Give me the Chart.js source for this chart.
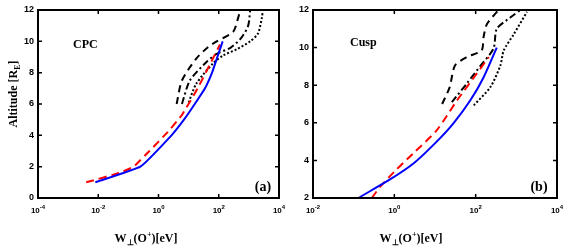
<!DOCTYPE html>
<html>
<head>
<meta charset="utf-8">
<script src="https://cdn.jsdelivr.net/npm/chart.js@4.4.1/dist/chart.umd.min.js"></script>
<style>
html, body { margin: 0; padding: 0; background: #fff; }
#wrap { position: relative; width: 568px; height: 252px; }
#cpc { position: absolute; left: 0; top: 0; }
#cusp { position: absolute; left: 290px; top: 0; }
</style>
</head>
<body>
<div id="wrap">
  <canvas id="cpc" width="290" height="252"></canvas>
  <canvas id="cusp" width="278" height="252"></canvas>
</div>
<script>
// ---- data (W in eV, altitude in RE) ----
const cpcXTicks = [1e-4, 1e-2, 1, 1e2, 1e4];
const cpcYTicks = [0, 2, 4, 6, 8, 10, 12];
const cuspXTicks = [1e-2, 1, 1e2, 1e4];
const cuspYTicks = [2, 4, 6, 8, 10, 12];

// CPC panel (a)
const cpcBlueW = [0.008, 0.25, 2.7, 7, 16, 35, 60, 90, 135];
const cpcBlueAlt = [1, 2, 4, 5, 6, 7, 8, 9, 10];
const cpcRedW = [0.004, 0.05, 0.15, 0.5, 2, 6, 20, 50, 110];
const cpcRedAlt = [1, 1.6, 2, 3, 4.2, 5.3, 7, 8.5, 9.8];
const cpcDashW = [4, 6, 18, 45, 85, 300, 440, 500];
const cpcDashAlt = [6, 7.5, 8.9, 9.65, 10, 10.6, 11.5, 11.9];
const cpcDashDotW = [6, 11, 40, 85, 250, 550, 950, 1100];
const cpcDashDotAlt = [6, 7.5, 8.7, 9.2, 9.6, 10.2, 11, 12];
const cpcDotW = [10, 18, 65, 140, 400, 1100, 2000, 2700, 2900];
const cpcDotAlt = [6.1, 7.3, 8.6, 9.1, 9.5, 10, 10.5, 11.5, 12];

// Cusp panel (b)
const cuspBlueW = [0.13, 0.8, 3, 11, 29, 74, 155, 330];
const cuspBlueAlt = [2, 3, 3.85, 5, 6, 7.2, 8.4, 10];
const cuspRedW = [0.28, 0.45, 1, 3, 11, 35, 105, 210];
const cuspRedAlt = [2, 2.6, 3.4, 4.4, 5.6, 7.2, 8.6, 9.5];
const cuspDashW = [15, 23, 31, 61, 140, 156, 190, 365];
const cuspDashAlt = [7, 7.9, 9.05, 9.5, 9.85, 10.55, 11.26, 12];
const cuspDashDotW = [26, 61, 128, 275, 330, 710, 1260];
const cuspDashDotAlt = [7.1, 8.1, 9, 9.95, 11, 11.6, 12];
const cuspDotW = [90, 230, 405, 490, 860, 1830];
const cuspDotAlt = [6.93, 7.9, 9.05, 9.85, 10.7, 11.9];

function pts(xs, ys) {
    return xs.map((x, i) => ({ x: x, y: ys[i] }));
}

function line(xs, ys, color, dash, order, tension) {
    return {
        data: pts(xs, ys),
        borderColor: color,
        borderWidth: 2,
        borderDash: dash,
        pointRadius: 0,
        tension: tension === undefined ? 0.25 : tension,
        fill: false,
        order: order
    };
}

// draws the frame, inward ticks, exponent tick labels and titles
const framePlugin = {
    id: "frame",
    afterDraw(chart, args, opts) {
        const ctx = chart.ctx;
        const a = chart.chartArea;
        const xs = chart.scales.x, ys = chart.scales.y;
        ctx.save();
        ctx.strokeStyle = "#000";
        ctx.fillStyle = "#000";

        // inward ticks
        ctx.lineWidth = 1.5;
        ctx.beginPath();
        xs.ticks.forEach(t => {
            const px = xs.getPixelForValue(t.value);
            ctx.moveTo(px, a.bottom); ctx.lineTo(px, a.bottom - 4);
            ctx.moveTo(px, a.top); ctx.lineTo(px, a.top + 4);
        });
        ys.ticks.forEach(t => {
            const py = ys.getPixelForValue(t.value);
            ctx.moveTo(a.left, py); ctx.lineTo(a.left + 4, py);
            ctx.moveTo(a.right, py); ctx.lineTo(a.right - 4, py);
        });
        ctx.stroke();

        // box
        ctx.lineWidth = 2;
        ctx.strokeRect(a.left, a.top, a.right - a.left, a.bottom - a.top);

        // x tick labels 10^n
        ctx.textBaseline = "alphabetic";
        xs.ticks.forEach(t => {
            const px = xs.getPixelForValue(t.value);
            const e = String(Math.round(Math.log10(t.value)));
            ctx.font = "bold 8px 'Liberation Sans', Arial, sans-serif";
            const w1 = ctx.measureText("10").width;
            ctx.font = "bold 6px 'Liberation Sans', Arial, sans-serif";
            const w2 = ctx.measureText(e).width;
            const x0 = px - (w1 + w2) / 2;
            ctx.textAlign = "left";
            ctx.font = "bold 8px 'Liberation Sans', Arial, sans-serif";
            ctx.fillText("10", x0, 213);
            ctx.font = "bold 6px 'Liberation Sans', Arial, sans-serif";
            ctx.fillText(e, x0 + w1, 209);
        });

        // x title  W⊥(O+)[eV]
        const big = "bold 12px 'Liberation Serif', 'Times New Roman', serif";
        const small = "bold 8px 'Liberation Serif', 'Times New Roman', serif";
        const parts = [
            { t: "W", f: big, dy: 0 },
            { t: "\u22A5", f: small, dy: 3 },
            { t: "(O", f: big, dy: 0 },
            { t: "+", f: small, dy: -5 },
            { t: ")[eV]", f: big, dy: 0 }
        ];
        let total = 0;
        parts.forEach(p => { ctx.font = p.f; p.w = ctx.measureText(p.t).width; total += p.w; });
        let cx = opts.xTitleX - total / 2;
        ctx.textAlign = "left";
        parts.forEach(p => { ctx.font = p.f; ctx.fillText(p.t, cx, 242 + p.dy); cx += p.w; });

        // y title  Altitude [RE]
        if (opts.yTitle) {
            ctx.save();
            ctx.translate(17, 94);
            ctx.rotate(-Math.PI / 2);
            const yparts = [
                { t: "Altitude [R", f: big, dy: 0 },
                { t: "E", f: small, dy: 3 },
                { t: "]", f: big, dy: 0 }
            ];
            let tw = 0;
            yparts.forEach(p => { ctx.font = p.f; p.w = ctx.measureText(p.t).width; tw += p.w; });
            let yx = -tw / 2;
            yparts.forEach(p => { ctx.font = p.f; ctx.fillText(p.t, yx, p.dy); yx += p.w; });
            ctx.restore();
        }

        // panel name and letter
        ctx.font = "bold 12px 'Liberation Serif', 'Times New Roman', serif";
        ctx.textAlign = "left";
        ctx.fillText(opts.name, opts.nameX, opts.nameY);
        ctx.font = "bold 14px 'Liberation Serif', 'Times New Roman', serif";
        ctx.textAlign = "center";
        ctx.fillText(opts.letter, opts.letterX, 191);
        ctx.restore();
    }
};

function makeChart(id, xTicks, yTicks, xmin, ymin, yAxisWidth, datasets, frame) {
    return new Chart(document.getElementById(id), {
        type: "line",
        data: { datasets: datasets },
        options: {
            responsive: false,
            animation: false,
            layout: { padding: { left: 0, right: 11, top: 10, bottom: 0 } },
            plugins: { legend: { display: false }, tooltip: { enabled: false }, frame: frame },
            scales: {
                x: {
                    type: "logarithmic",
                    min: xmin,
                    max: 1e4,
                    ticks: { display: false },
                    grid: { display: false, drawTicks: false },
                    border: { display: false },
                    afterBuildTicks: s => { s.ticks = xTicks.map(v => ({ value: v })); },
                    afterFit: s => { s.height = 54; }
                },
                y: {
                    type: "linear",
                    min: ymin,
                    max: 12,
                    ticks: {
                        stepSize: 2,
                        color: "#000",
                        padding: 4,
                        font: { family: "'Liberation Sans', Arial, sans-serif", weight: "bold", size: 9 }
                    },
                    grid: { display: false, drawTicks: false },
                    border: { display: false },
                    afterBuildTicks: s => { s.ticks = yTicks.map(v => ({ value: v })); },
                    afterFit: s => { s.width = yAxisWidth; }
                }
            }
        },
        plugins: [framePlugin]
    });
}

makeChart("cpc", cpcXTicks, cpcYTicks, 1e-4, 0, 38, [
    line(cpcDotW, cpcDotAlt, "#000", [2, 2], 5),
    line(cpcDashDotW, cpcDashDotAlt, "#000", [7, 3, 2, 3], 4),
    line(cpcDashW, cpcDashAlt, "#000", [7, 5], 3),
    line(cpcRedW, cpcRedAlt, "#ff0000", [8, 5], 2, 0.1),
    line(cpcBlueW, cpcBlueAlt, "#0000ff", [], 1, 0.1)
], { yTitle: true, xTitleX: 146, name: "CPC", nameX: 73, nameY: 48, letter: "(a)", letterX: 263 });

makeChart("cusp", cuspXTicks, cuspYTicks, 1e-2, 2, 23, [
    line(cuspDotW, cuspDotAlt, "#000", [2, 2], 5),
    line(cuspDashDotW, cuspDashDotAlt, "#000", [7, 3, 2, 3], 4),
    line(cuspDashW, cuspDashAlt, "#000", [7, 5], 3),
    line(cuspRedW, cuspRedAlt, "#ff0000", [8, 5], 2),
    line(cuspBlueW, cuspBlueAlt, "#0000ff", [], 1)
], { yTitle: false, xTitleX: 121, name: "Cusp", nameX: 60, nameY: 46, letter: "(b)", letterX: 249 });
</script>
</body>
</html>
